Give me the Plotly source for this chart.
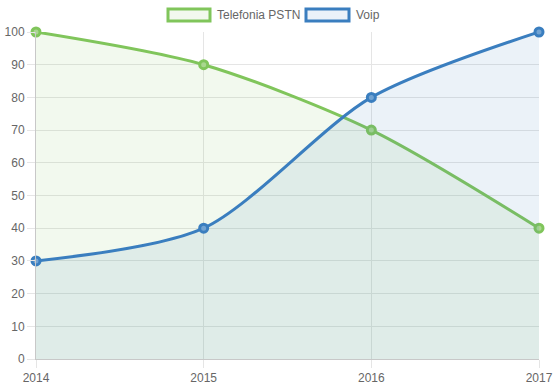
import plotly.graph_objects as go

years = [2014, 2015, 2016, 2017]
pstn = [100, 90, 70, 40]
voip = [30, 40, 80, 100]
y_ticks = list(range(0, 101, 10))
series_names = ["Telefonia PSTN", "Voip"]

green = "#80c55b"
blue = "#3a7ebf"
green_fill = "rgba(128,197,91,0.1)"
blue_fill = "rgba(58,126,191,0.1)"

fig = go.Figure()
fig.add_trace(go.Scatter(
    x=years, y=pstn, name=series_names[0], mode="lines+markers",
    line=dict(color=green, width=3, shape="spline", smoothing=0.8),
    marker=dict(size=8, color="#a9d78f", line=dict(color=green, width=3)),
    fill="tozeroy", fillcolor=green_fill, showlegend=False, cliponaxis=False,
))
fig.add_trace(go.Scatter(
    x=years, y=voip, name=series_names[1], mode="lines+markers",
    line=dict(color=blue, width=3, shape="spline", smoothing=0.8),
    marker=dict(size=8, color="#72a3d2", line=dict(color=blue, width=3)),
    fill="tozeroy", fillcolor=blue_fill, showlegend=False, cliponaxis=False,
))

# legend drawn as boxes + labels (Chart.js style)
W, H = 503.0, 327.0
def px(x):
    return (x - 36) / W
def py(y):
    return (359 - y) / H

legend_items = [
    (series_names[0], green, "#f2f8ee", 168, 210, 215),
    (series_names[1], blue, "#ebf2f9", 306, 349, 354),
]
for name, col, fc, x0, x1, tx in legend_items:
    fig.add_shape(type="rect", xref="paper", yref="paper",
                  x0=px(x0), x1=px(x1), y0=py(21), y1=py(9),
                  line=dict(color=col, width=3), fillcolor=fc)
    fig.add_annotation(xref="paper", yref="paper", x=px(tx), y=py(15),
                       text=name, showarrow=False, xanchor="left", yanchor="middle",
                       font=dict(size=12, color="#666"))

fig.update_layout(
    width=555, height=388,
    margin=dict(l=36, r=16, t=32, b=29, autoexpand=False),
    paper_bgcolor="white", plot_bgcolor="white",
    font=dict(family="Liberation Sans, Arial, sans-serif", size=12, color="#666"),
    showlegend=False,
    xaxis=dict(range=[2014, 2017], tickvals=years, ticktext=[str(y) for y in years],
               showgrid=True, gridcolor="#e5e5e5", zeroline=False, automargin=False,
               showline=True, linecolor="#c8c8c8", ticks="outside", ticklen=8,
               tickcolor="#e5e5e5", fixedrange=True),
    yaxis=dict(range=[0, 100], tickvals=y_ticks, showgrid=True, gridcolor="#e5e5e5",
               zeroline=False, showline=True, linecolor="#c8c8c8", ticks="outside",
               automargin=False, ticklen=8, tickcolor="#e5e5e5"),
)
fig.write_html("out.html", config={"displayModeBar": False},
               post_script="document.body.style.margin='0';document.body.style.padding='0';")
